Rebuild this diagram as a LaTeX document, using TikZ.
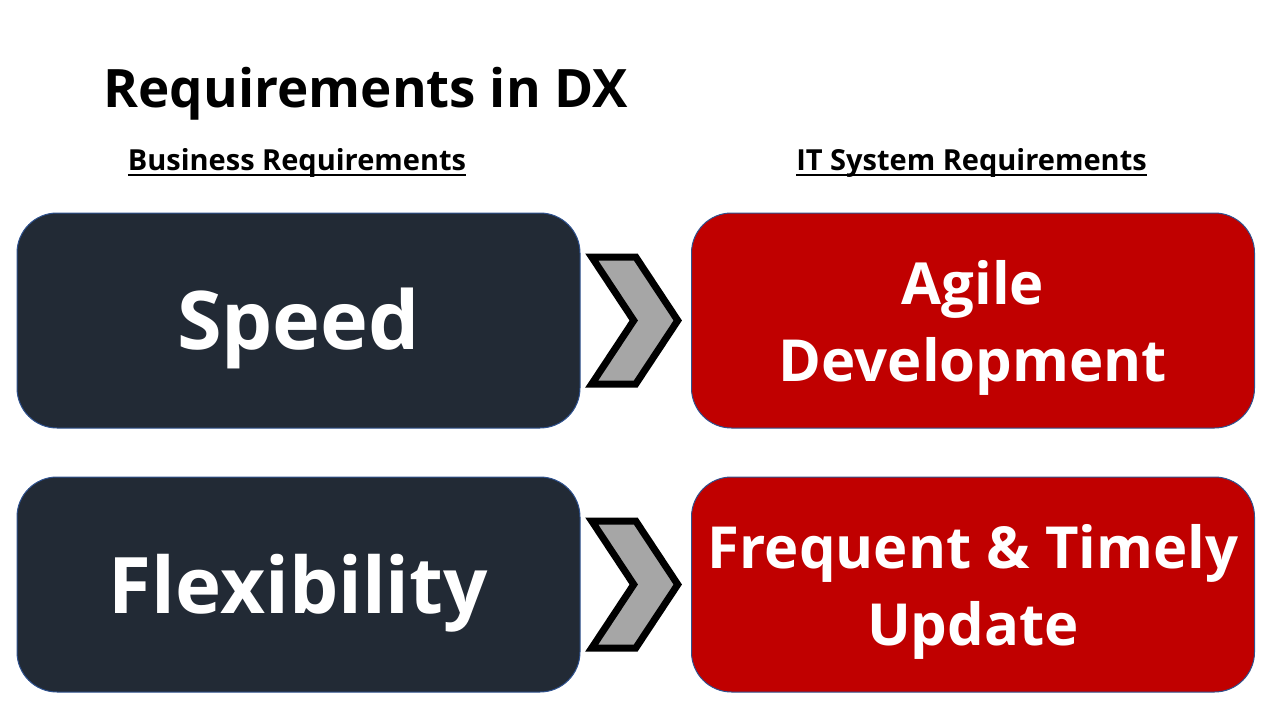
\documentclass[tikz,border=0pt]{standalone}
\usepackage{fontspec}
\setmainfont{Open Sans}
\usetikzlibrary{calc}

\definecolor{navyBox}{HTML}{222A35}
\definecolor{redBox}{HTML}{C00000}
\definecolor{boxEdge}{HTML}{2F528F}
\definecolor{chevGray}{HTML}{A6A6A6}

\newcommand{\reqUnderline}[1]{\setbox0\hbox{#1}\rlap{\rule[-6pt]{\wd0}{2pt}}\box0}

\begin{document}
\begin{tikzpicture}[x=1pt,y=-1pt]

\useasboundingbox (0,0) rectangle (1280,720);

\def\colsep{674.5}
\def\rowsep{264}

\tikzstyle{reqBox}=[rectangle,rounded corners=40pt,draw=boxEdge,line width=1pt,minimum width=563pt,minimum height=215pt,inner sep=0pt,text=white,align=center]
\tikzstyle{busBox}=[reqBox,fill=navyBox,font=\bfseries\fontsize{81}{90}\selectfont,text height=58pt,text depth=0pt]
\tikzstyle{itBox}=[reqBox,fill=redBox,font=\bfseries\fontsize{58}{77}\selectfont,text height=122pt,text depth=-4pt]
\tikzstyle{chevron}=[fill=chevGray,draw=black,line width=7pt]
\tikzstyle{colLabel}=[anchor=base,font=\bfseries\fontsize{29}{34}\selectfont]

%Title
\node[anchor=base west,font=\bfseries\fontsize{53}{60}\selectfont] (title) at (100,107) {Requirements in DX};

%Column Marks
\node[colLabel] (busLabel) at (297,170) {\reqUnderline{Business Requirements}};
\node[colLabel] (itLabel)  at (297+\colsep,170) {\reqUnderline{IT System Requirements}};

%business boxes
\node[busBox] (speed) at (298.5,320.5) {Speed};
\node[busBox,font=\bfseries\fontsize{78}{90}\selectfont] (flex)  at (298.5,320.5+\rowsep) {Flexibility};

%it boxes
\node[itBox] (agile)  at (298.5+\colsep,320.5) {Agile\\Development};
\node[itBox] (update) at (298.5+\colsep,320.5+\rowsep) {Frequent \& Timely\\Update};

% chevrons between the rows
\coordinate (c1) at ($(speed.east)!0.5!(agile.west)$);
\coordinate (c2) at ($(flex.east)!0.5!(update.west)$);
\draw[chevron] ($(c1)+(-44,-63.5)$) -- ++(44,0) -- ++(42,63.5) -- ++(-42,63.5) -- ++(-44,0) -- ++(42,-63.5) -- cycle;
\draw[chevron] ($(c2)+(-44,-63.5)$) -- ++(44,0) -- ++(42,63.5) -- ++(-42,63.5) -- ++(-44,0) -- ++(42,-63.5) -- cycle;

\end{tikzpicture}
\end{document}
